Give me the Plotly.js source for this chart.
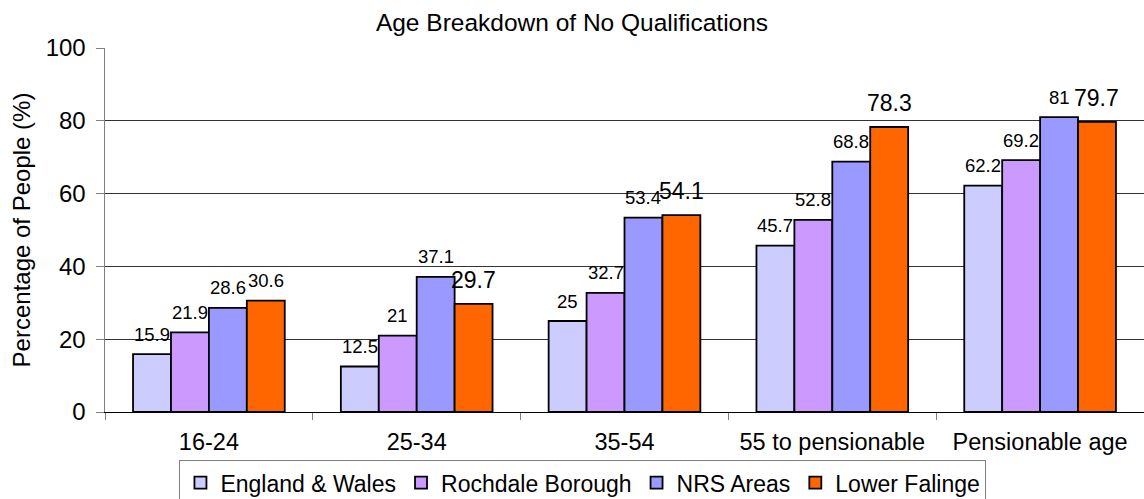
<!DOCTYPE html>
<html>
<head>
<meta charset="utf-8">
<script src="https://cdn.plot.ly/plotly-3.0.1.min.js"></script>
<style>html,body{margin:0;padding:0;background:#fff;}#chart{width:1144px;height:499px;}</style>
</head>
<body>
<div id="chart"></div>
<script>
// ---- data ----
const categories = ['16-24', '25-34', '35-54', '55 to pensionable', 'Pensionable age'];
const seriesNames = ['England & Wales', 'Rochdale Borough', 'NRS Areas', 'Lower Falinge'];
const englandWales = [15.9, 12.5, 25, 45.7, 62.2];
const rochdaleBorough = [21.9, 21, 32.7, 52.8, 69.2];
const nrsAreas = [28.6, 37.1, 53.4, 68.8, 81];
const lowerFalinge = [30.6, 29.7, 54.1, 78.3, 79.7];
const chartTitle = 'Age Breakdown of No Qualifications';
const yTitle = 'Percentage of People (%)';

// ---- style ----
const seriesValues = [englandWales, rochdaleBorough, nrsAreas, lowerFalinge];
const colors = ['#CCCCFF', '#CC99FF', '#9999FF', '#FF6600'];
const FONT = 'Liberation Sans, Arial, sans-serif';
const bargap = 0.27;
const nSeries = seriesValues.length;
const barW = (1 - bargap) / nSeries;

const traces = seriesValues.map((vals, s) => ({
  type: 'bar',
  name: seriesNames[s],
  x: categories,
  y: vals,
  marker: {color: colors[s], line: {color: '#000', width: 1.8}},
  hoverinfo: 'x+y+name'
}));

// data labels: the last series' labels are drawn larger except in the first group
const annotations = [];
seriesValues.forEach((vals, s) => {
  vals.forEach((v, i) => {
    const big = (s === nSeries - 1 && i > 0);
    annotations.push({
      x: i + (s - (nSeries - 1) / 2) * barW,
      y: v,
      xref: 'x', yref: 'y',
      text: String(v),
      showarrow: false,
      yanchor: 'middle',
      yshift: big ? 24 : 20,
      font: {family: FONT, size: big ? 23 : 18.5, color: '#000'}
    });
  });
});

const layout = {
  width: 1144, height: 499,
  margin: {l: 105, r: 0, t: 48, b: 87, autoexpand: false},
  paper_bgcolor: '#fff', plot_bgcolor: '#fff',
  font: {family: FONT, color: '#000'},
  title: {text: chartTitle, font: {family: FONT, size: 24.5, color: '#000'},
          x: 0.5, xref: 'container', xanchor: 'center', y: 0.956, yref: 'container', yanchor: 'middle'},
  barmode: 'group', bargap: bargap, bargroupgap: 0,
  xaxis: {
    type: 'category',
    showline: true, linecolor: '#000', linewidth: 1,
    ticks: 'outside', tickson: 'boundaries', ticklen: 7, tickcolor: '#808080',
    tickfont: {family: FONT, size: 23.5, color: '#000'},
    ticklabelstandoff: 9,
    showgrid: false, zeroline: false, fixedrange: true, automargin: false
  },
  yaxis: {
    range: [0, 100], dtick: 20, tick0: 0,
    showline: true, linecolor: '#808080', linewidth: 1.5,
    ticks: 'outside', ticklen: 8, tickcolor: '#808080',
    tickfont: {family: FONT, size: 24, color: '#000'},
    ticklabelstandoff: 5,
    showgrid: true, gridcolor: '#333', gridwidth: 1,
    zeroline: false, automargin: false,
    title: {text: yTitle, font: {family: FONT, size: 24, color: '#000'}, standoff: 8},
    fixedrange: true
  },
  legend: {
    orientation: 'h', x: 0.46, xanchor: 'center',
    yref: 'container', y: 0.078, yanchor: 'top',
    font: {family: FONT, size: 23, color: '#000'},
    bordercolor: '#808080', borderwidth: 1, bgcolor: '#fff',
    traceorder: 'normal'
  },
  annotations: annotations,
  showlegend: true
};

Plotly.newPlot('chart', traces, layout, {displayModeBar: false, staticPlot: true});
</script>
</body>
</html>
